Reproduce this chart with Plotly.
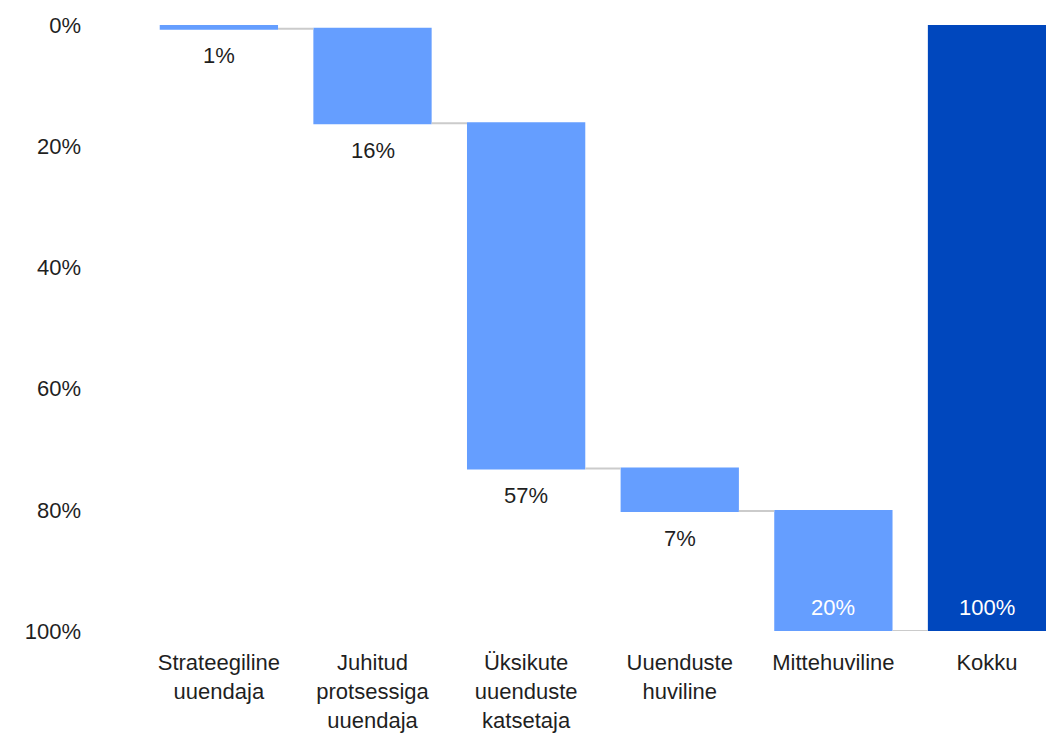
import numpy as np
import plotly.graph_objects as go

categories = ["Strateegiline<br>uuendaja", "Juhitud<br>protsessiga<br>uuendaja",
              "Üksikute<br>uuenduste<br>katsetaja", "Uuenduste<br>huviline",
              "Mittehuviline", "Kokku"]
shares = [0.6, 15.6, 57.0, 7.0, 19.8]          # % of firms per group
total_label = 100
y_ticks = [0, 20, 40, 60, 80, 100]

measures = ["relative"] * len(shares) + ["total"]
values = shares + [0]

LIGHT = "#659EFF"
DARK = "#0047BD"
TXT = "#1F1F1F"
FONT = "Liberation Sans, Arial, sans-serif"
FS = 22

fig = go.Figure(go.Waterfall(
    x=categories, y=values, measure=measures,
    increasing=dict(marker=dict(color=LIGHT)),
    decreasing=dict(marker=dict(color=LIGHT)),
    totals=dict(marker=dict(color=DARK)),
    connector=dict(line=dict(color="#CBCBCB", width=2), mode="between"),
    width=0.77, hoverinfo="skip", showlegend=False,
))

ends = np.cumsum(shares)
annotations = []
for i, (cat, v, e) in enumerate(zip(categories[:-1], shares, ends)):
    inside = i == len(shares) - 1
    annotations.append(dict(
        x=cat, y=e, xref="x", yref="y", text=f"{v:.0f}%", showarrow=False,
        yanchor="middle", yshift=24 if inside else -27,
        font=dict(family=FONT, size=FS, color="white" if inside else TXT)))
annotations.append(dict(
    x=categories[-1], y=ends[-1], xref="x", yref="y", text=f"{total_label}%",
    showarrow=False, yanchor="middle", yshift=24,
    font=dict(family=FONT, size=FS, color="white")))

fig.update_layout(
    width=1046, height=733,
    margin=dict(l=82, r=0, t=25, b=102),
    paper_bgcolor="white", plot_bgcolor="white",
    font=dict(family=FONT, size=FS, color=TXT),
    annotations=annotations,
    xaxis=dict(range=[-0.891, 5.384], showgrid=False, zeroline=False, showline=False,
               automargin=False,
               ticks="outside", ticklen=12, tickcolor="rgba(0,0,0,0)",
               tickfont=dict(family=FONT, size=FS, color=TXT)),
    yaxis=dict(range=[100, 0], tickmode="array", tickvals=y_ticks,
               ticktext=[f"{t}%" for t in y_ticks], automargin=False,
               showgrid=False, zeroline=False, showline=False,
               tickfont=dict(family=FONT, size=FS, color=TXT)),
)

fig.write_html(
    "out.html",
    config={"displayModeBar": False},
    post_script="document.body.style.margin='0';document.body.style.overflow='hidden';",
)
